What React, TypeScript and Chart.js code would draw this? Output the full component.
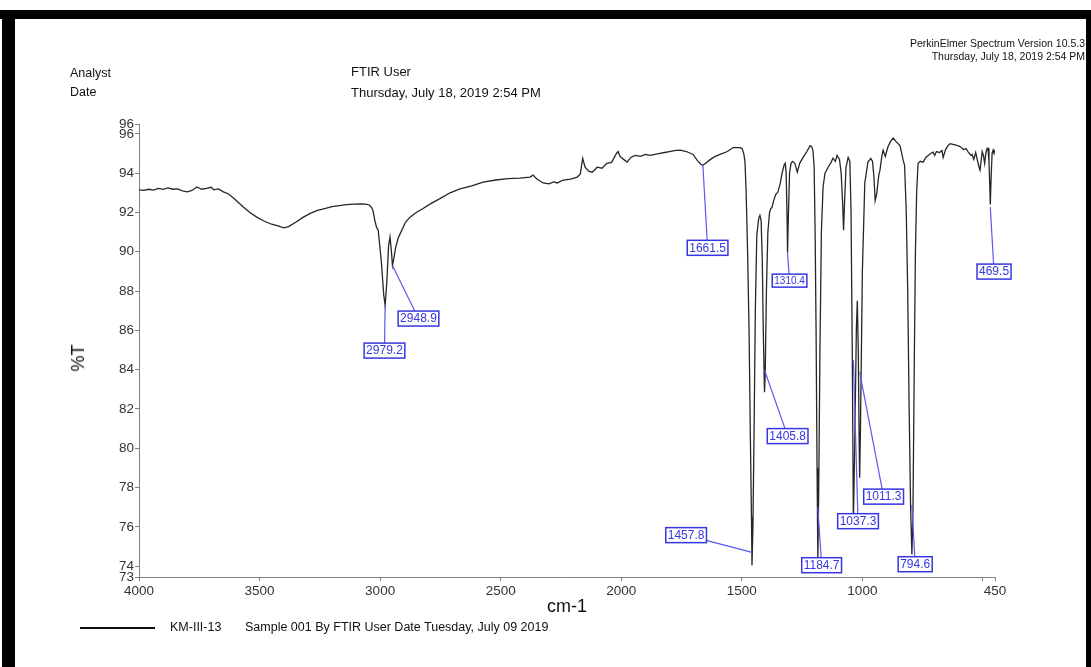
import React, { useEffect, useRef } from "react";
import { Chart, registerables } from "chart.js";

Chart.register(...registerables);

// Spectrum: wavenumber (cm-1) and transmittance (%T)
const wavenumbers = [
  4000, 3980, 3960, 3940, 3920, 3900, 3880, 3860, 3840, 3820, 3800, 3780, 3760, 3740, 3720, 3700,
  3690, 3670, 3650, 3630, 3600, 3570, 3540, 3510, 3480, 3450, 3420, 3400, 3380, 3350, 3320, 3290,
  3260, 3230, 3200, 3170, 3140, 3110, 3080, 3060, 3045, 3035, 3030, 3022, 3015, 3008, 2995, 2985,
  2979.2, 2972, 2965, 2959, 2953, 2948.9, 2944, 2936, 2925, 2910, 2895, 2876, 2850, 2822, 2790, 2752,
  2710, 2669, 2620, 2573, 2520, 2470, 2420, 2378, 2366, 2350, 2324, 2300, 2280, 2266, 2240, 2210,
  2183, 2170, 2160, 2150, 2135, 2120, 2100, 2080, 2060, 2040, 2020, 2013, 2005, 1990, 1976, 1960,
  1943, 1920, 1900, 1880, 1860, 1840, 1820, 1800, 1780, 1756, 1730, 1702, 1685, 1670, 1661.5, 1650,
  1630, 1610, 1590, 1560, 1536, 1520, 1507, 1499, 1492, 1487, 1482, 1476, 1470, 1465, 1460, 1457.8,
  1454, 1449, 1444, 1438, 1430, 1425, 1420, 1415, 1411, 1407, 1405.8, 1403, 1398, 1392, 1385, 1380,
  1375, 1368, 1360, 1350, 1340, 1333, 1325, 1320, 1316, 1312, 1310.4, 1307, 1302, 1296, 1290, 1280,
  1270, 1260, 1246, 1230, 1217, 1210, 1205, 1200, 1196, 1192, 1188, 1184.7, 1181, 1176, 1170, 1163,
  1155, 1142, 1130, 1122, 1112, 1105, 1095, 1088, 1082, 1078, 1074, 1068, 1059, 1052, 1047, 1042,
  1037.3, 1032, 1025, 1021, 1017, 1013, 1011.3, 1008, 1000, 990, 977, 965, 958, 952, 947, 940,
  932, 927, 920, 914, 905, 895, 884, 872, 860, 844, 835, 831, 825, 818, 812, 806,
  800, 794.6, 790, 785, 780, 775, 769, 760, 748, 737, 727, 717, 707, 700, 693, 680,
  670, 665, 655, 645, 636, 620, 605, 595, 580, 570, 560, 550, 545, 538, 530, 522,
  516, 512, 508, 503, 498, 493, 488, 483, 479, 475, 472, 469.5, 466, 462, 458, 454,
  450,
];

const transmittance = [
  93.15, 93.12, 93.18, 93.14, 93.22, 93.17, 93.25, 93.18, 93.2, 93.1, 93.05, 93.12, 93.3, 93.18, 93.22, 93.28,
  93.15, 93.2, 93.05, 92.95, 92.65, 92.3, 92.0, 91.75, 91.55, 91.4, 91.3, 91.22, 91.28, 91.5, 91.75, 91.95,
  92.1, 92.2, 92.3, 92.35, 92.4, 92.42, 92.43, 92.42, 92.38, 92.25, 92.1, 91.6, 91.25, 91.1, 89.5, 87.8,
  87.28, 88.5, 90.3, 90.75, 90.0, 89.3, 89.6, 90.2, 90.7, 91.1, 91.5, 91.76, 92.0, 92.2, 92.45, 92.7,
  93.0, 93.2, 93.35, 93.54, 93.65, 93.72, 93.75, 93.8, 93.9, 93.7, 93.5, 93.45, 93.55, 93.5, 93.65, 93.7,
  93.8, 93.95, 94.75, 94.3, 94.1, 94.05, 94.3, 94.25, 94.5, 94.55, 95.0, 95.1, 94.85, 94.7, 94.56, 94.8,
  94.9, 94.85, 94.95, 94.9, 94.95, 95.0, 95.05, 95.1, 95.15, 95.17, 95.1, 94.95, 94.65, 94.45, 94.4, 94.5,
  94.7, 94.85, 94.95, 95.1, 95.3, 95.3, 95.3, 95.25, 95.0, 94.6, 93.0, 90.0, 86.0, 81.0, 76.5, 74.05,
  76.0, 81.0, 87.0, 90.8, 91.7, 91.85, 91.6, 89.5, 86.0, 83.5, 82.85, 83.8, 88.0, 91.0, 92.0, 92.2,
  92.25, 92.6, 92.9, 93.05, 93.5, 94.0, 94.4, 94.5, 94.0, 91.5, 89.95, 91.8, 94.0, 94.5, 94.6, 94.5,
  94.05, 94.5, 94.8, 95.1, 95.4, 95.35, 95.15, 94.3, 91.0, 86.0, 79.0, 74.3, 78.0, 85.0, 91.0, 93.3,
  94.0, 94.3, 94.55, 94.76, 94.6, 94.9, 94.7, 94.0, 92.5, 91.1, 92.5, 94.3, 94.8, 94.6, 92.0, 85.0,
  76.3, 80.0, 86.0, 87.5, 85.0, 80.0, 78.5, 81.0, 89.0, 93.5, 94.56, 94.75, 94.6, 93.8, 92.6, 93.0,
  93.9, 94.15, 94.8, 95.17, 94.85, 95.3, 95.6, 95.78, 95.6, 95.4, 94.9, 94.66, 94.4, 92.0, 88.0, 82.0,
  77.0, 74.6, 77.0, 84.0, 90.0, 93.0, 94.5, 94.6, 94.56, 94.8, 94.9, 95.0, 95.07, 94.9, 95.1, 95.05,
  95.15, 94.8, 95.2, 95.4, 95.5, 95.45, 95.4, 95.35, 95.2, 95.25, 95.05, 94.9, 94.95, 94.7, 95.05, 94.6,
  94.3, 94.15, 94.6, 95.1, 94.9, 94.5, 95.0, 95.25, 95.27, 94.6, 93.5, 92.4, 93.8, 95.0, 95.17, 95.0,
  95.2,
];

// Axis ticks
const xTickValues = [4000, 3500, 3000, 2500, 2000, 1500, 1000, 500, 450];
const xUnlabelled = [500];
const yMin = 73.45;
const yMax = 96.5;
const yTickValues = [yMin, 74, 76, 78, 80, 82, 84, 86, 88, 90, 92, 94, 96, yMax];

// Picked peaks: wavenumber and the %T where the leader meets the trace
const peakWavenumbers = [2979.2, 2948.9, 1661.5, 1457.8, 1405.8, 1310.4, 1184.7, 1037.3, 1011.3, 794.6, 469.5];
const peakLeaderT = [87.28, 89.3, 94.4, 74.7, 83.97, 89.95, 77.0, 84.48, 83.87, 77.1, 92.27];

// Where each peak tag sits (axis units) and its text size
const tagPlacement = [
  { wn: 2982, t: 84.97, size: 12 },
  { wn: 2841, t: 86.6, size: 12 },
  { wn: 1642, t: 90.2, size: 12 },
  { wn: 1731, t: 75.58, size: 12 },
  { wn: 1310, t: 80.62, size: 12 },
  { wn: 1302, t: 88.53, size: 10 },
  { wn: 1169, t: 74.05, size: 12 },
  { wn: 1018, t: 76.29, size: 12 },
  { wn: 912, t: 77.54, size: 12 },
  { wn: 781, t: 74.1, size: 12 },
  { wn: 454, t: 88.99, size: 12 },
];

const FONT = '"Liberation Sans", Arial, Helvetica, sans-serif';
const TAG_BLUE = "rgb(55, 55, 225)";
const LEADER_BLUE = "rgb(90, 90, 240)";

const peakTagPlugin = {
  id: "peakTags",
  afterDatasetsDraw(chart: any) {
    const { ctx, scales } = chart;
    const x = scales.x;
    const y = scales.y;
    ctx.save();
    peakWavenumbers.forEach((wn, i) => {
      const place = tagPlacement[i];
      const tipX = x.getPixelForValue(wn);
      const tipY = y.getPixelForValue(peakLeaderT[i]);
      const cx = x.getPixelForValue(place.wn);
      const cy = y.getPixelForValue(place.t);
      const text = wn.toFixed(1);
      ctx.font = `${place.size}px ${FONT}`;
      const w = ctx.measureText(text).width + 4;
      const h = place.size + 3;
      ctx.strokeStyle = LEADER_BLUE;
      ctx.lineWidth = 1.2;
      ctx.beginPath();
      ctx.moveTo(cx, cy);
      ctx.lineTo(tipX, tipY);
      ctx.stroke();
      ctx.fillStyle = "#ffffff";
      ctx.fillRect(cx - w / 2, cy - h / 2, w, h);
      ctx.strokeStyle = TAG_BLUE;
      ctx.lineWidth = 1.5;
      ctx.strokeRect(cx - w / 2, cy - h / 2, w, h);
      ctx.fillStyle = TAG_BLUE;
      ctx.textAlign = "center";
      ctx.textBaseline = "middle";
      ctx.fillText(text, cx, cy + 0.5);
    });
    ctx.restore();
  },
};

const textStyle: React.CSSProperties = {
  position: "absolute",
  fontFamily: FONT,
  color: "#111",
  whiteSpace: "nowrap",
  lineHeight: "15px",
};

export default function App() {
  const canvasRef = useRef<HTMLCanvasElement | null>(null);

  useEffect(() => {
    const canvas = canvasRef.current;
    if (!canvas) return;
    const chart = new Chart(canvas, {
      type: "line",
      data: {
        datasets: [
          {
            label: "KM-III-13",
            data: wavenumbers.map((wn, i) => ({ x: wn, y: transmittance[i] })),
            borderColor: "#262626",
            borderWidth: 1.3,
            pointRadius: 0,
            tension: 0,
            fill: false,
          },
        ],
      },
      options: {
        animation: false,
        responsive: false,
        devicePixelRatio: 1,
        parsing: false,
        layout: { padding: { left: 0, top: 124, right: 96, bottom: 0 } },
        plugins: {
          legend: { display: false },
          title: { display: false },
          tooltip: { enabled: false },
        },
        scales: {
          x: {
            type: "linear",
            reverse: true,
            min: 450,
            max: 4000,
            afterBuildTicks: (scale: any) => {
              scale.ticks = xTickValues.map((v) => ({ value: v }));
            },
            afterFit: (scale: any) => {
              scale.height = 90;
            },
            ticks: {
              autoSkip: false,
              maxRotation: 0,
              padding: 2,
              color: "#333",
              font: { family: FONT, size: 13.5 },
              callback: (v: any) => (xUnlabelled.includes(Number(v)) ? "" : String(v)),
            },
            grid: { drawOnChartArea: false, drawTicks: true, tickLength: 4, color: "#808080" },
            border: { color: "#808080", width: 1 },
            title: {
              display: true,
              text: "cm-1",
              color: "#111",
              font: { family: FONT, size: 18 },
              padding: { top: 0, bottom: 49 },
            },
          },
          y: {
            type: "linear",
            min: yMin,
            max: yMax,
            afterBuildTicks: (scale: any) => {
              scale.ticks = yTickValues.map((v) => ({ value: v }));
            },
            afterFit: (scale: any) => {
              scale.width = 139;
            },
            ticks: {
              autoSkip: false,
              padding: 1,
              color: "#333",
              font: { family: FONT, size: 13.5 },
              // axis ends are labelled with their whole-number part
              callback: (v: any) => String(Math.floor(Number(v))),
            },
            grid: { drawOnChartArea: false, drawTicks: true, tickLength: 4, color: "#808080" },
            border: { color: "#808080", width: 1 },
            title: { display: false },
          },
        },
      },
      plugins: [peakTagPlugin],
    });
    return () => chart.destroy();
  }, []);

  return (
    <div
      style={{
        position: "fixed",
        left: 0,
        top: 0,
        width: 1091,
        height: 667,
        background: "#fff",
        overflow: "hidden",
      }}
    >
      <canvas ref={canvasRef} width={1091} height={667} style={{ position: "absolute", left: 0, top: 0 }} />

      {/* y axis title */}
      <div
        style={{
          ...textStyle,
          left: 78,
          top: 358,
          fontSize: 18,
          lineHeight: "20px",
          transform: "translate(-50%, -50%) rotate(-90deg)",
        }}
      >
        %T
      </div>

      {/* frame */}
      <div style={{ position: "absolute", left: 0, top: 10, width: 1091, height: 9, background: "#000" }} />
      <div style={{ position: "absolute", left: 2, top: 10, width: 13, height: 657, background: "#000" }} />
      <div style={{ position: "absolute", left: 1086, top: 10, width: 5, height: 657, background: "#000" }} />

      {/* header */}
      <div style={{ ...textStyle, left: 70, top: 65.5, fontSize: 12.5 }}>Analyst</div>
      <div style={{ ...textStyle, left: 70, top: 84.5, fontSize: 12.5 }}>Date</div>
      <div style={{ ...textStyle, left: 351, top: 63.5, fontSize: 13 }}>FTIR User</div>
      <div style={{ ...textStyle, left: 351, top: 84.5, fontSize: 13 }}>Thursday, July 18, 2019 2:54 PM</div>
      <div style={{ ...textStyle, right: 6, top: 37, fontSize: 10.5, textAlign: "right", lineHeight: "13px" }}>
        PerkinElmer Spectrum Version 10.5.3
        <br />
        Thursday, July 18, 2019 2:54 PM
      </div>

      {/* legend */}
      <div style={{ position: "absolute", left: 80, top: 627, width: 75, height: 2, background: "#111" }} />
      <div style={{ ...textStyle, left: 170, top: 620, fontSize: 12.5 }}>KM-III-13</div>
      <div style={{ ...textStyle, left: 245, top: 620, fontSize: 12.5 }}>
        Sample 001 By FTIR User Date Tuesday, July 09 2019
      </div>
    </div>
  );
}
